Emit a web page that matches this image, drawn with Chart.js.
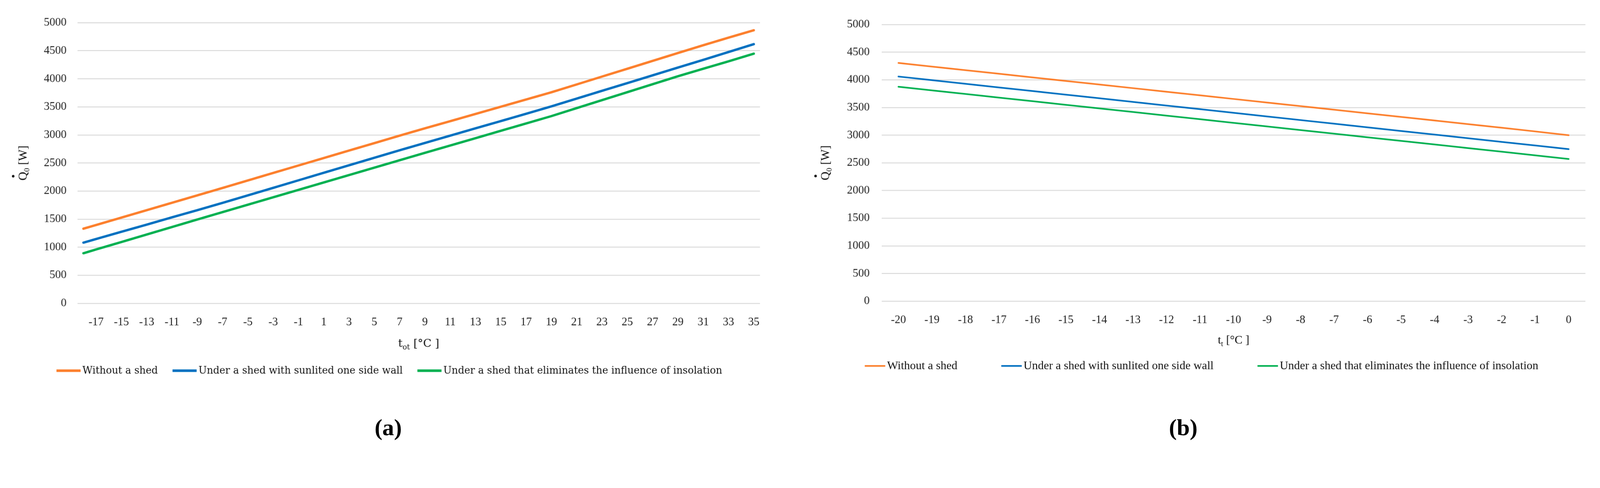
<!DOCTYPE html>
<html>
<head>
<meta charset="utf-8">
<script src="https://cdn.jsdelivr.net/npm/chart.js@4.4.0/dist/chart.umd.min.js"></script>
<style>
  html, body { margin: 0; padding: 0; background: #fff; overflow: hidden; }
  #page { position: relative; width: 4377px; height: 1248px; overflow: hidden; transform-origin: 0 0; }
  .box { position: absolute; top: 0; height: 1248px; }
  #boxA { left: 0; width: 2190px; }
  #boxB { left: 2190px; width: 2187px; }
  .cap { position: absolute; top: 1133px; font: bold 64px "Liberation Serif", serif; line-height: 70px; transform: translateX(-50%); color: #000; }
</style>
</head>
<body>
<div id="page">
  <div class="box" id="boxA"><canvas id="chartA"></canvas></div>
  <div class="box" id="boxB"><canvas id="chartB"></canvas></div>
  <div class="cap" style="left:1062px">(a)</div>
  <div class="cap" style="left:3237px">(b)</div>
</div>
<script>
// series names (same in both panels)
var seriesNames = [
    'Without a shed',
    'Under a shed with sunlited one side wall',
    'Under a shed that eliminates the influence of insolation'
];
var seriesColors = ['#FC7F2C', '#0070C0', '#00B050'];

// panel (a): outdoor temperature t_ot [°C]
var tempA = [-18, -17, -15, -13, -11, -9, -7, -5, -3, -1, 1, 3, 5, 7, 9, 11, 13, 15, 17, 19, 21, 23, 25, 27, 29, 31, 33, 35];
var noShedA  = [1330, 1396, 1528, 1660, 1792, 1924, 2056, 2190, 2323, 2456, 2589, 2722, 2855, 2988, 3118, 3246, 3375, 3503, 3632, 3760, 3900, 4040, 4180, 4320, 4460, 4598, 4733, 4866];
var sunWallA = [1082, 1146, 1275, 1403, 1532, 1660, 1790, 1924, 2058, 2192, 2326, 2460, 2594, 2728, 2858, 2988, 3118, 3248, 3378, 3510, 3648, 3786, 3924, 4062, 4200, 4338, 4478, 4618];
var noSunA   = [893, 960, 1093, 1227, 1360, 1493, 1626, 1758, 1890, 2022, 2154, 2286, 2418, 2550, 2681, 2812, 2943, 3074, 3205, 3336, 3478, 3620, 3762, 3904, 4046, 4180, 4312, 4448];
var xTicksA  = [-17, -15, -13, -11, -9, -7, -5, -3, -1, 1, 3, 5, 7, 9, 11, 13, 15, 17, 19, 21, 23, 25, 27, 29, 31, 33, 35];

// panel (b): temperature t_t [°C]
var tempB = ['-20', '-19', '-18', '-17', '-16', '-15', '-14', '-13', '-12', '-11', '-10', '-9', '-8', '-7', '-6', '-5', '-4', '-3', '-2', '-1', '0'];
var noShedB  = [4305, 4240, 4175, 4110, 4045, 3980, 3915, 3850, 3785, 3720, 3655, 3590, 3525, 3460, 3395, 3330, 3265, 3200, 3135, 3068, 3000];
var sunWallB = [4060, 3994, 3929, 3863, 3798, 3732, 3667, 3601, 3535, 3470, 3404, 3339, 3273, 3207, 3142, 3076, 3011, 2945, 2879, 2814, 2748];
var noSunB   = [3875, 3810, 3745, 3679, 3614, 3549, 3484, 3419, 3353, 3288, 3223, 3158, 3092, 3027, 2962, 2897, 2832, 2766, 2701, 2636, 2570];

var yMax = 5000, yStep = 500;

// axis titles with subscripts
var xTitleA = [{ t: 't', s: 30 }, { t: 'ot', s: 20, dy: 7 }, { t: ' [°C ]', s: 30 }];
var xTitleB = [{ t: 't', s: 32 }, { t: 't', s: 21, dy: 7 }, { t: ' [°C ]', s: 32 }];
var yTitle  = [{ t: 'Q', s: 33, dot: true }, { t: '0', s: 21, dy: 7 }, { t: ' [W]', s: 33 }];

// the page is laid out at 4377 px; fit it into whatever the viewport really is
var fit = window.innerWidth / 4377;
document.getElementById('page').style.transform = 'scale(' + fit + ')';

function drawRich(ctx, parts, family, cx, baseline) {
    var widths = parts.map(function(p) {
        ctx.font = p.s + 'px ' + family;
        return ctx.measureText(p.t).width;
    });
    var total = widths.reduce(function(a, b) { return a + b; }, 0);
    var x = cx - total / 2;
    ctx.textAlign = 'left';
    ctx.textBaseline = 'alphabetic';
    parts.forEach(function(p, i) {
        ctx.font = p.s + 'px ' + family;
        ctx.fillText(p.t, x, baseline + (p.dy || 0));
        if (p.dot) {
            ctx.beginPath();
            ctx.arc(x + widths[i] / 2, baseline - p.s * 1.12, 3.5, 0, Math.PI * 2);
            ctx.fill();
        }
        x += widths[i];
    });
}

// legend + axis titles drawn below the plot, Excel style
var excelText = {
    id: 'excelText',
    afterDraw: function(chart, args, o) {
        var ctx = chart.ctx;
        var area = chart.chartArea;
        ctx.save();
        ctx.fillStyle = '#111';

        // x axis title
        drawRich(ctx, o.xTitle, o.titleFont, (area.left + area.right) / 2, o.xTitleY);

        // y axis title, rotated
        ctx.save();
        ctx.translate(o.yTitleX, (area.top + area.bottom) / 2);
        ctx.rotate(-Math.PI / 2);
        drawRich(ctx, yTitle, o.yFont, 0, 0);
        ctx.restore();

        // legend
        var lg = o.legend;
        ctx.font = lg.size + 'px ' + lg.font;
        var items = chart.data.datasets.map(function(ds) {
            return { text: ds.label, color: ds.borderColor, w: ctx.measureText(ds.label).width };
        });
        var total = 0;
        items.forEach(function(it, i) {
            total += lg.boxW + lg.gap + it.w + (i < items.length - 1 ? lg.itemGap : 0);
        });
        var x = lg.cx - total / 2;
        ctx.textBaseline = 'middle';
        ctx.textAlign = 'left';
        items.forEach(function(it) {
            ctx.strokeStyle = it.color;
            ctx.lineWidth = lg.lineW;
            ctx.lineCap = 'butt';
            ctx.beginPath();
            ctx.moveTo(x, lg.y);
            ctx.lineTo(x + lg.boxW, lg.y);
            ctx.stroke();
            x += lg.boxW + lg.gap;
            ctx.fillStyle = '#111';
            ctx.fillText(it.text, x, lg.y + 1);
            x += it.w + lg.itemGap;
        });
        ctx.restore();
    }
};

function yScale(width, pad) {
    return {
        min: 0,
        max: yMax,
        afterFit: function(s) { s.width = width; },
        ticks: {
            stepSize: yStep,
            padding: pad,
            color: '#222',
            font: { family: 'Liberation Serif', size: 31 },
            callback: function(v) { return String(v); }
        },
        grid: { color: '#d9d9d9', lineWidth: 2.5, drawTicks: false },
        border: { display: false }
    };
}

function makeSets(values, width) {
    return values.map(function(v, i) {
        return {
            label: seriesNames[i],
            data: v,
            borderColor: seriesColors[i],
            backgroundColor: seriesColors[i],
            borderWidth: width,
            borderCapStyle: 'round',
            pointRadius: 0,
            tension: 0,
            fill: false
        };
    });
}

function toPoints(xs, ys) {
    return xs.map(function(t, i) { return { x: t, y: ys[i] }; });
}

// panel (a)
new Chart(document.getElementById('chartA'), {
    type: 'line',
    data: {
        datasets: makeSets([toPoints(tempA, noShedA), toPoints(tempA, sunWallA), toPoints(tempA, noSunA)], 6.5)
    },
    options: {
        responsive: true,
        maintainAspectRatio: false,
        animation: false,
        layout: { padding: { top: 62, right: 111, bottom: 359, left: 0 } },
        scales: {
            x: {
                type: 'linear',
                min: -18.47,
                max: 35.49,
                afterFit: function(s) { s.height = 60; },
                afterBuildTicks: function(s) {
                    s.ticks = xTicksA.map(function(v) { return { value: v }; });
                },
                ticks: {
                    padding: 25,
                    maxRotation: 0,
                    autoSkip: false,
                    color: '#222',
                    font: { family: 'Liberation Serif', size: 31 },
                    callback: function(v) { return String(v); }
                },
                grid: { display: false },
                border: { display: false }
            },
            y: yScale(212, 30)
        },
        plugins: {
            legend: { display: false },
            tooltip: { enabled: false },
            excelText: {
                xTitle: xTitleA,
                titleFont: '"DejaVu Serif"',
                xTitleY: 948,
                yTitleX: 73,
                yFont: '"Liberation Serif"',
                legend: { cx: 1065, y: 1013, boxW: 66, lineW: 7, gap: 5, itemGap: 40, size: 27, font: '"DejaVu Serif"' }
            }
        }
    },
    plugins: [excelText]
});

// panel (b)
new Chart(document.getElementById('chartB'), {
    type: 'line',
    data: {
        labels: tempB,
        datasets: makeSets([noShedB, sunWallB, noSunB], 4.5)
    },
    options: {
        responsive: true,
        maintainAspectRatio: false,
        animation: false,
        layout: { padding: { top: 67, right: 40, bottom: 365, left: 0 } },
        scales: {
            x: {
                type: 'category',
                offset: true,
                afterFit: function(s) { s.height = 60; },
                ticks: {
                    padding: 25,
                    maxRotation: 0,
                    autoSkip: false,
                    color: '#222',
                    font: { family: 'Liberation Serif', size: 31 }
                },
                grid: { display: false },
                border: { display: false }
            },
            y: yScale(222, 33)
        },
        plugins: {
            legend: { display: false },
            tooltip: { enabled: false },
            excelText: {
                xTitle: xTitleB,
                titleFont: '"Liberation Serif"',
                xTitleY: 939,
                yTitleX: 78,
                yFont: '"Liberation Serif"',
                legend: { cx: 3287 - 2190, y: 1000, boxW: 56, lineW: 4.5, gap: 5, itemGap: 120, size: 32, font: '"Liberation Serif"' }
            }
        }
    },
    plugins: [excelText]
});
</script>
</body>
</html>
